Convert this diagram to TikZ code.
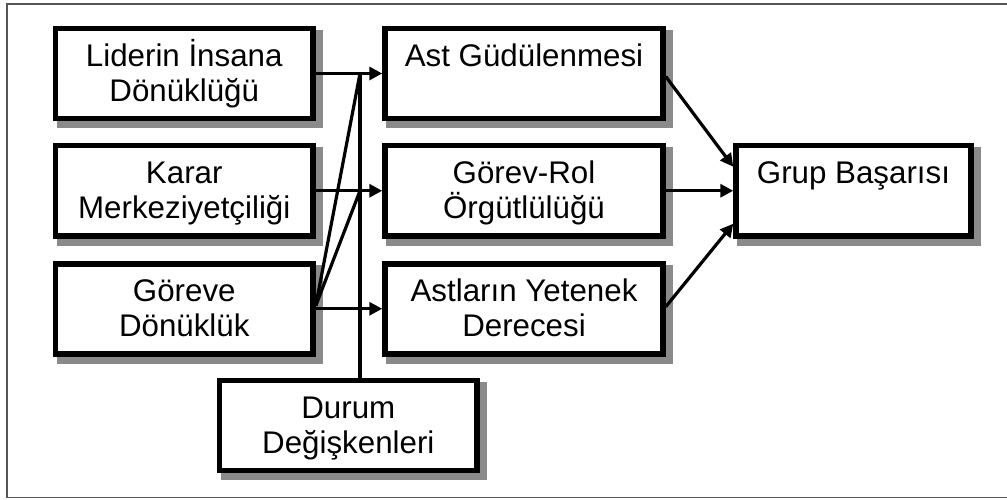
\documentclass[tikz,border=0pt]{standalone}
\usepackage{fontspec}
\setmainfont{Liberation Sans}
\usetikzlibrary{arrows.meta,calc,backgrounds}
\definecolor{shadowc}{HTML}{8A8A8A}
\definecolor{framec}{HTML}{555555}
\newcommand{\bt}[2]{\parbox[c][90pt][t]{#1}{\centering\fontsize{31.3}{35}\selectfont\rule{0pt}{38pt}#2\par}}
\begin{document}
\begin{tikzpicture}[x=1pt,y=-1pt,
  box/.style={draw=black, line width=5.5pt, fill=white, inner sep=0pt},
  conn/.style={line width=3.2pt, -{Triangle[length=13pt,width=13pt]}},
  plain/.style={line width=3.2pt},
  vline/.style={line width=4.5pt}]
\useasboundingbox (0,0) rectangle (1007,500);
\draw[framec, line width=1.8pt] (1007,4) -- (7,4) -- (7,497.5) -- (1007,497.5);

\node[box] (lid) at (184.25,73.5)  {\bt{257.5pt}{Liderin İnsana\\Dönüklüğü}};
\node[box] (kar) at (184.25,190.75){\bt{257.5pt}{Karar\\Merkeziyetçiliği}};
\node[box] (gor) at (184.25,308.75){\bt{257.5pt}{Göreve\\Dönüklük}};
\node[box] (dur) at (348.35,425.5) {\bt{257.5pt}{Durum\\Değişkenleri}};
\node[box] (ast) at (524,73.5)     {\bt{278pt}{Ast Güdülenmesi}};
\node[box] (grl) at (524,190.75)   {\bt{278pt}{Görev-Rol\\Örgütlülüğü}};
\node[box] (ayd) at (524,308.75)   {\bt{278pt}{Astların Yetenek\\Derecesi}};
\node[box] (gru) at (853.5,190.75) {\bt{235pt}{Grup Başarısı}};

\begin{scope}[on background layer]
\foreach \n in {lid,kar,gor,dur,ast,grl,ayd,gru}
  \fill[shadowc] ($(\n.north west)+(4,4)$) rectangle ($(\n.south east)+(7,7)$);
\end{scope}

\coordinate (vtop) at (360,73.5);
\coordinate (vmid) at (360,190.75);
\coordinate (apex) at ($(gor.east)+(0,-3)$);

\draw[vline] (vtop) -- (vtop |- dur.north);
\draw[plain] (apex) -- (vtop);
\draw[plain] (apex) -- (vmid);

\draw[conn] (lid.east) -- (ast.west);
\draw[conn] (kar.east) -- (grl.west);
\draw[conn] (gor.east) -- (ayd.west);

\draw[conn] ($(ast.east)+(0,3)$) -- ($(gru.west)+(0,-24)$);
\draw[conn] (grl.east) -- (gru.west);
\draw[conn] ($(ayd.east)+(0,-2)$) -- ($(gru.west)+(0,33)$);
\end{tikzpicture}
\end{document}
